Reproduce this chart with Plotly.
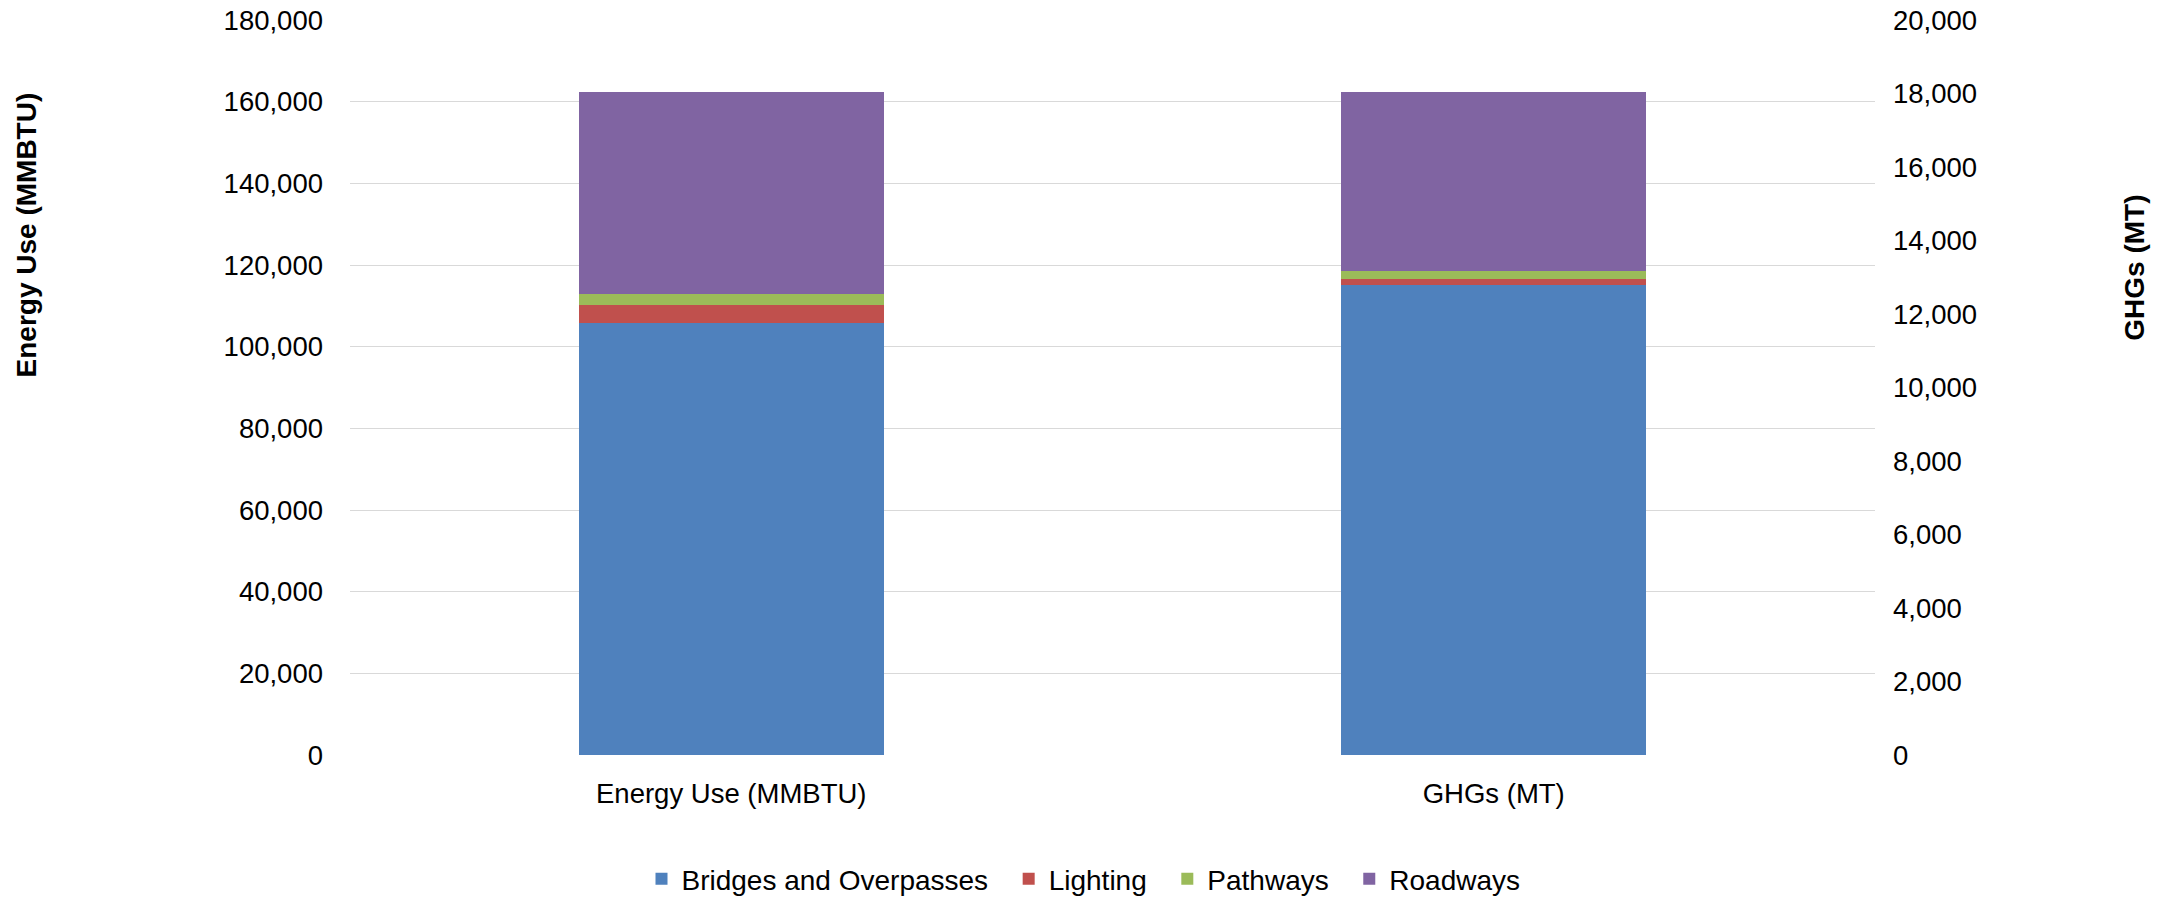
import plotly.graph_objects as go

categories = ["Energy Use (MMBTU)", "GHGs (MT)"]
series_names = ["Bridges and Overpasses", "Lighting", "Pathways", "Roadways"]
energy_values = [105700, 4580, 2690, 49410]   # MMBTU, left axis
ghg_values = [12790, 165, 218, 4869]          # MT, right axis
colors = ["#4F81BD", "#C0504D", "#9BBB59", "#8064A2"]

left_ticks = list(range(0, 180001, 20000))
right_ticks = list(range(0, 20001, 2000))

FONT = "Liberation Sans, Arial, sans-serif"
FS = 27.5
PAD = "\u00a0\u00a0"  # extra spacing after legend labels

fig = go.Figure()
for i, (name, ev, gv, col) in enumerate(zip(series_names, energy_values, ghg_values, colors)):
    label = name + (PAD if i < len(series_names) - 1 else "")
    fig.add_trace(go.Bar(x=[categories[0]], y=[ev], name=label, marker_color=col,
                         marker_line_width=0, legendgroup=name, showlegend=True,
                         yaxis="y"))
    fig.add_trace(go.Bar(x=[categories[1]], y=[gv], name=label, marker_color=col,
                         marker_line_width=0, legendgroup=name, showlegend=False,
                         yaxis="y2"))

fig.update_layout(
    width=2167, height=897, autosize=False,
    margin=dict(l=350, r=292, t=20, b=142, autoexpand=False),
    paper_bgcolor="white", plot_bgcolor="white",
    barmode="stack", bargap=0.6,
    font=dict(family=FONT, size=FS, color="#000000"),
    xaxis=dict(type="category", categoryorder="array", categoryarray=categories,
               showgrid=False, showline=False, zeroline=False, automargin=False,
               ticks="", ticklabelstandoff=19,
               tickfont=dict(family=FONT, size=FS, color="#000000")),
    yaxis=dict(range=[0, 180000], tickvals=left_ticks, tickformat=",",
               showgrid=True, gridcolor="#D9D9D9", gridwidth=1.3, automargin=False,
               zeroline=False, showline=False, ticks="", ticklabelstandoff=26,
               tickfont=dict(family=FONT, size=FS, color="#000000")),
    yaxis2=dict(range=[0, 20000], tickvals=right_ticks, tickformat=",",
                overlaying="y", side="right", showgrid=False, zeroline=False,
                showline=False, ticks="", ticklabelstandoff=17, automargin=False,
                tickfont=dict(family=FONT, size=FS, color="#000000")),
    legend=dict(orientation="h", xref="container", x=0.5, xanchor="center",
                yref="container", y=0.02, yanchor="middle",
                font=dict(family=FONT, size=28, color="#000000"),
                traceorder="normal", itemclick=False),
    annotations=[
        dict(text="<b>Energy Use (MMBTU)</b>", textangle=-90, xref="paper", yref="paper",
             x=-0.2124, y=0.707, xanchor="center", yanchor="middle", showarrow=False,
             font=dict(family=FONT, size=28, color="#000000")),
        dict(text="<b>GHGs (MT)</b>", textangle=-90, xref="paper", yref="paper",
             x=1.1705, y=0.663, xanchor="center", yanchor="middle", showarrow=False,
             font=dict(family=FONT, size=28, color="#000000")),
    ],
)

fig.write_html(
    "out.html",
    config={"displayModeBar": False},
    post_script="document.body.style.margin='0';document.body.style.overflow='hidden';",
)
